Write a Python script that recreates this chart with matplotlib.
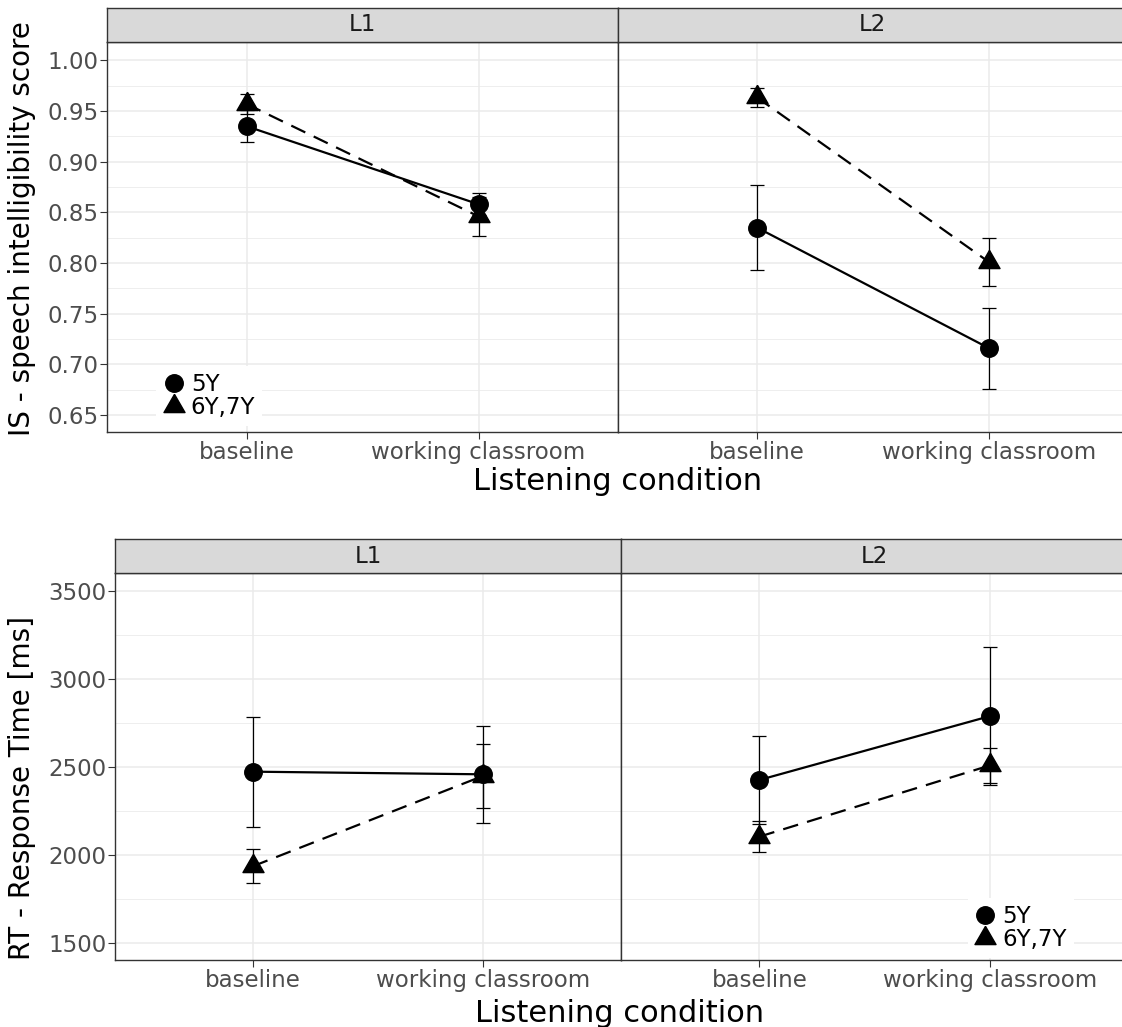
import matplotlib
matplotlib.use("Agg")
import matplotlib.pyplot as plt
from matplotlib.lines import Line2D
from matplotlib.ticker import FixedLocator

# ---------------- data ----------------
conditions = ["baseline", "working classroom"]
groups = ["5Y", "6Y,7Y"]
languages = ["L1", "L2"]

# Speech intelligibility (IS)
is_L1_5y = [0.935, 0.858]
is_L1_5y_err = [0.016, 0.011]
is_L1_67y = [0.957, 0.846]
is_L1_67y_err = [0.010, 0.019]
is_L2_5y = [0.835, 0.716]
is_L2_5y_err = [0.0415, 0.040]
is_L2_67y = [0.9635, 0.801]
is_L2_67y_err = [0.0095, 0.0234]

# Response time (RT, ms)
rt_L1_5y = [2475, 2460]
rt_L1_5y_err = [312, 275]
rt_L1_67y = [1938, 2451]
rt_L1_67y_err = [98, 183]
rt_L2_5y = [2428, 2791]
rt_L2_5y_err = [250, 393]
rt_L2_67y = [2106, 2511]
rt_L2_67y_err = [86, 98]

is_ticks = [0.65, 0.70, 0.75, 0.80, 0.85, 0.90, 0.95, 1.00]
rt_ticks = [1500, 2000, 2500, 3000, 3500]

# ---------------- style ----------------
W, H = 1122, 1027
fig = plt.figure(figsize=(W / 100, H / 100), dpi=100)
fig.patch.set_facecolor("white")

def fbox(l, t, r, b):
    return [l / W, 1 - b / H, (r - l) / W, (b - t) / H]

TRI = [(0, 1), (-0.866, -0.5), (0.866, -0.5), (0, 1)]
CIRC_MS = 12.6
TRI_MS = 17.5
BORDER = "#333333"
TICKLAB = "#4D4D4D"
GRID = "#EBEBEB"
TICK_FS = 16.5

def style_axes(ax, ylim, yticks, yminor, show_y):
    ax.set_xlim(0.4, 2.6)
    ax.set_ylim(*ylim)
    ax.set_xticks([1, 2])
    ax.set_xticklabels(conditions)
    ax.yaxis.set_major_locator(FixedLocator(yticks))
    ax.yaxis.set_minor_locator(FixedLocator(yminor))
    ax.grid(True, which="major", color=GRID, lw=1.1, zorder=0)
    ax.grid(True, which="minor", axis="y", color=GRID, lw=0.6, zorder=0)
    ax.set_axisbelow(True)
    for s in ax.spines.values():
        s.set_color(BORDER)
        s.set_linewidth(1.0)
    ax.tick_params(axis="both", which="major", length=5, width=0.8, color=BORDER,
                   labelcolor=TICKLAB, labelsize=TICK_FS, pad=1.2)
    ax.tick_params(axis="y", which="minor", length=0)
    if not show_y:
        ax.tick_params(axis="y", which="both", left=False, labelleft=False)

def strip(box, label):
    s = fig.add_axes(fbox(*box))
    s.set_facecolor("#D9D9D9")
    s.set_xticks([]); s.set_yticks([])
    for sp in s.spines.values():
        sp.set_color(BORDER); sp.set_linewidth(1.0)
    s.text(0.5, 0.5, label, ha="center", va="center", fontsize=16.5,
           color="#1A1A1A", transform=s.transAxes)

def draw(ax, y5, e5, y67, e67):
    x = [1, 2]
    ax.errorbar(x, y5, yerr=e5, fmt="none", ecolor="black", elinewidth=0.9,
                capsize=4.7, capthick=0.9, zorder=3)
    ax.errorbar(x, y67, yerr=e67, fmt="none", ecolor="black", elinewidth=0.9,
                capsize=4.7, capthick=0.9, zorder=3)
    ax.plot(x, y5, color="black", lw=1.6, ls="-", zorder=4)
    ax.plot(x, y67, color="black", lw=1.6, ls=(0, (7, 4.2)), zorder=4)
    ax.plot(x, y5, ls="none", marker="o", ms=CIRC_MS, color="black", zorder=5)
    ax.plot(x, y67, ls="none", marker=TRI, ms=TRI_MS, color="black", zorder=5)

# ---------------- top: IS ----------------
is_ylim = (0.6332, 1.0184)
is_minor = [0.675, 0.725, 0.775, 0.825, 0.875, 0.925, 0.975]
ax1 = fig.add_axes(fbox(107.3, 41.7, 617.7, 432))
ax2 = fig.add_axes(fbox(617.7, 41.7, 1128, 432))
style_axes(ax1, is_ylim, is_ticks, is_minor, True)
style_axes(ax2, is_ylim, is_ticks, is_minor, False)
ax1.set_yticklabels([f"{v:.2f}" for v in is_ticks])
draw(ax1, is_L1_5y, is_L1_5y_err, is_L1_67y, is_L1_67y_err)
draw(ax2, is_L2_5y, is_L2_5y_err, is_L2_67y, is_L2_67y_err)
strip((107.3, 8, 617.7, 41.7), languages[0])
strip((617.7, 8, 1128, 41.7), languages[1])

# ---------------- bottom: RT ----------------
rt_ylim = (1403.4, 3602)
rt_minor = [1750, 2250, 2750, 3250]
ax3 = fig.add_axes(fbox(115, 573.3, 621, 960.3))
ax4 = fig.add_axes(fbox(621, 573.3, 1128.6, 960.3))
style_axes(ax3, rt_ylim, rt_ticks, rt_minor, True)
style_axes(ax4, rt_ylim, rt_ticks, rt_minor, False)
ax3.set_yticklabels([str(v) for v in rt_ticks])
draw(ax3, rt_L1_5y, rt_L1_5y_err, rt_L1_67y, rt_L1_67y_err)
draw(ax4, rt_L2_5y, rt_L2_5y_err, rt_L2_67y, rt_L2_67y_err)
strip((115, 539.3, 621, 573.3), languages[0])
strip((621, 539.3, 1128.6, 573.3), languages[1])

# ---------------- axis titles ----------------
fig.text(21.7 / W, 1 - 229 / H, "IS - speech intelligibility score", rotation=90,
         ha="center", va="center", fontsize=20, color="black")
fig.text(22 / W, 1 - 788 / H, "RT - Response Time [ms]", rotation=90,
         ha="center", va="center", fontsize=20, color="black")
fig.text(618 / W, 1 - 490 / H, "Listening condition", ha="center", va="baseline",
         fontsize=22, color="black")
fig.text(620 / W, 1 - 1022 / H, "Listening condition", ha="center", va="baseline",
         fontsize=22, color="black")

# ---------------- legends ----------------
def make_legend(cx, cy):
    handles = [Line2D([], [], ls="none", marker="o", ms=CIRC_MS, color="black"),
               Line2D([], [], ls="none", marker=TRI, ms=TRI_MS, color="black")]
    leg = fig.legend(handles, groups, loc="center", bbox_to_anchor=(cx / W, 1 - cy / H),
                     frameon=True, facecolor="white", edgecolor="none", framealpha=1,
                     fontsize=16.5, handlelength=0.9, handletextpad=0.3,
                     labelspacing=0.0, borderpad=0.3, fancybox=False)
    leg.get_frame().set_linewidth(0)
    return leg

make_legend(209.3, 395.7)
make_legend(1021, 928)

fig.savefig("out.png", dpi=100, facecolor="white")
